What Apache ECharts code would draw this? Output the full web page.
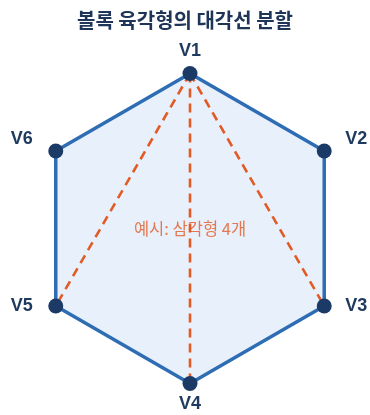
<!DOCTYPE html>
<html>
<head>
<meta charset="utf-8">
<script src="https://cdn.jsdelivr.net/npm/echarts@6/dist/echarts.min.js"></script>
<style>
html,body{margin:0;padding:0;background:#fff;}
#c{width:370px;height:415px;}
</style>
</head>
<body>
<div id="c"></div>
<script>
const titleText = '볼록 육각형의 대각선 분할';
const annotationText = '예시: 삼각형 4개';
const vertexLabels = ['V1', 'V2', 'V3', 'V4', 'V5', 'V6'];
const vertexX = [0, 0.866, 0.866, 0, -0.866, -0.866];
const vertexY = [1, 0.5, -0.5, -1, -0.5, 0.5];
const diagonalFrom = [0, 0, 0];
const diagonalTo = [2, 3, 4];
const annotationPos = [0, 0];

const labelOffsets = [[0, -22], [32, -12], [32, 0], [0, 21], [-34, 0], [-34, -12]];

const chart = echarts.init(document.getElementById('c'));

const vertices = vertexX.map((x, i) => [x, vertexY[i]]);

const diagonalSeries = diagonalFrom.map((f, i) => ({
  type: 'line',
  data: [vertices[f], vertices[diagonalTo[i]]],
  symbol: 'none',
  silent: true,
  z: 3,
  lineStyle: { color: '#e25a24', width: 2.6, type: [9, 6] }
}));

chart.setOption({
  animation: false,
  title: {
    text: titleText,
    left: 'center',
    top: 5,
    textStyle: { fontFamily: 'Noto Sans CJK KR', fontSize: 20, fontWeight: 'bold', color: '#1f3557' }
  },
  grid: { left: 19.5, right: 9.5, top: 58, bottom: 16 },
  xAxis: { type: 'value', min: -1.1, max: 1.1, show: false },
  yAxis: { type: 'value', min: -1.1, max: 1.1, show: false },
  series: [
    {
      type: 'custom',
      z: 1,
      data: vertices,
      renderItem: function (params, api) {
        if (params.dataIndex !== 0) return null;
        const pts = vertices.map(v => api.coord(v));
        return {
          type: 'polygon',
          shape: { points: pts },
          style: { fill: '#e8f0fc', stroke: '#2e6db4', lineWidth: 3.5, lineJoin: 'miter' }
        };
      }
    },
    ...diagonalSeries,
    {
      type: 'scatter',
      z: 5,
      symbol: 'circle',
      symbolSize: 15,
      itemStyle: { color: '#1b3a66', opacity: 1 },
      data: vertices.map((v, i) => ({
        value: v,
        label: {
          show: true,
          formatter: vertexLabels[i],
          position: 'inside',
          offset: labelOffsets[i],
          fontFamily: 'Liberation Sans',
          fontWeight: 'bold',
          fontSize: 18,
          color: '#1e3a5f'
        }
      }))
    },
    {
      type: 'scatter',
      z: 6,
      symbolSize: 0,
      silent: true,
      data: [{
        value: annotationPos,
        label: {
          show: true,
          formatter: annotationText,
          position: 'inside',
          fontFamily: 'Noto Sans CJK KR',
          fontSize: 16.5,
          color: '#e25a24'
        }
      }]
    }
  ]
});
</script>
</body>
</html>
